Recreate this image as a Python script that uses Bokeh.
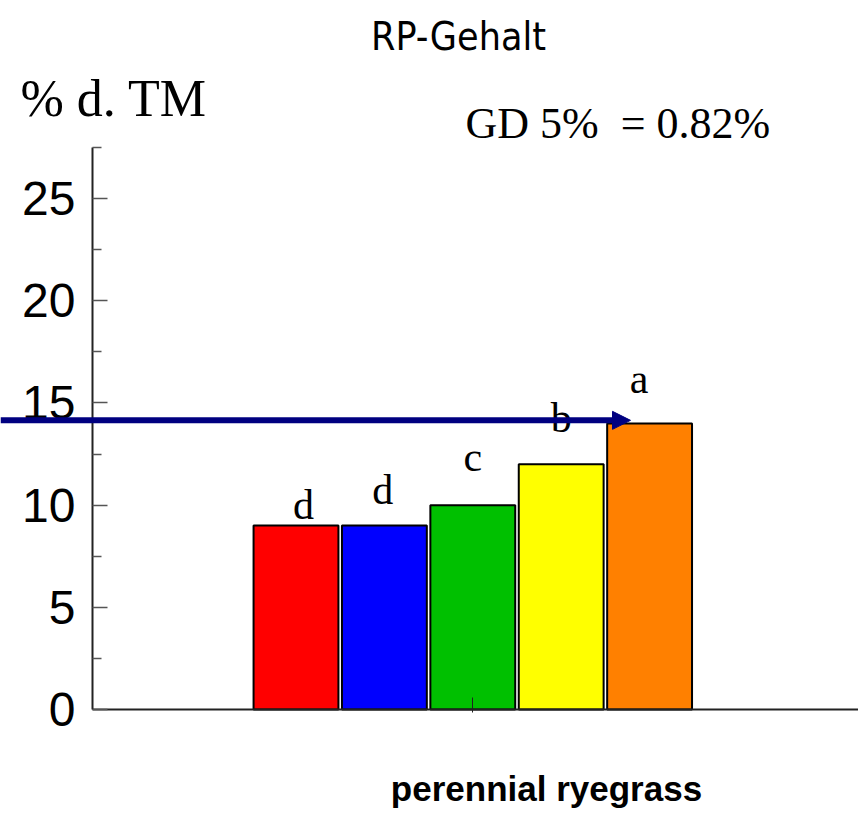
from bokeh.plotting import figure
from bokeh.models import (ColumnDataSource, FixedTicker, Label, Arrow, NormalHead, Range1d)
from bokeh.core.properties import value
from bokeh.embed import file_html
from bokeh.resources import INLINE

# Crude protein content of perennial ryegrass, % of dry matter
treatments = ["T1", "T2", "T3", "T4", "T5"]
protein = [9.0, 9.0, 10.0, 12.0, 14.0]
letters = ["d", "d", "c", "b", "a"]
colors = ["#ff0000", "#0000ff", "#00c000", "#ffff00", "#ff8000"]
y_ticks = [0, 5, 10, 15, 20, 25]
y_minor = [2.5, 7.5, 12.5, 17.5, 22.5, 27.5]
lsd_text = "GD 5%\u00a0 = 0.82%"
reference_level = 14.15

# placement of the significance letters relative to each bar
letter_dx = [0.085, -0.02, 0.0, 0.0, -0.12]
letter_lift = [0.25, 1.03, 1.6, 1.55, 1.46]

# canvas geometry: the plotting frame fills the whole canvas, the axes sit
# at fixed data positions inside it
W, H = 858, 817
AXIS_PX, BASE_PX = 92, 709          # canvas column of the y axis, row of y = 0
X_AT_AXIS = -1.302                  # x value under the y axis
PX_PER_X, PX_PER_Y = 88.4, 20.436
Y_TOP = 27.5
BASELINE_FIX = 0.36                 # lifts alphabetic-baseline text onto its baseline


def dx(px):
    return X_AT_AXIS + (px - AXIS_PX) / PX_PER_X


def dy(py):
    return (BASE_PX - py) / PX_PER_Y


xs = list(range(1, len(protein) + 1))
src = ColumnDataSource(dict(x=xs, top=protein, color=colors))
lab = ColumnDataSource(dict(
    x=[x + d for x, d in zip(xs, letter_dx)],
    y=[v + l for v, l in zip(protein, letter_lift)],
    text=letters,
))

p = figure(width=W, height=H, output_backend="svg", toolbar_location=None,
           x_range=Range1d(dx(0), dx(W)), y_range=Range1d(dy(H), dy(0)),
           min_border=0)
p.outline_line_color = None
p.grid.visible = False
p.background_fill_color = "white"
p.border_fill_color = "white"

p.vbar(x="x", top="top", bottom=0, width=0.96, fill_color="color",
       line_color="black", line_width=2, source=src)

p.text(x="x", y="y", text="text", source=lab, text_align="center",
       text_baseline="alphabetic", text_font=value("Liberation Serif"),
       text_font_size="42px", text_color="black", y_offset=-15)

# y axis
ya = p.yaxis[0]
ya.fixed_location = X_AT_AXIS
ya.bounds = (0, Y_TOP)
ya.ticker = FixedTicker(ticks=y_ticks, minor_ticks=y_minor)
ya.axis_line_color = "#222222"
ya.axis_line_width = 2
ya.major_tick_in = 15
ya.major_tick_out = 0
ya.major_tick_line_color = "#555555"
ya.major_tick_line_width = 1.5
ya.minor_tick_in = 9
ya.minor_tick_out = 0
ya.minor_tick_line_color = "#555555"
ya.minor_tick_line_width = 1.5
ya.major_label_text_font = "Liberation Sans"
ya.major_label_text_font_size = "48px"
ya.major_label_text_color = "black"
ya.major_label_standoff = 17

# x axis along y = 0 with a single tick under the middle bar
xa = p.xaxis[0]
xa.fixed_location = 0
xa.bounds = (X_AT_AXIS, dx(W))
xa.ticker = FixedTicker(ticks=[3], minor_ticks=[])
xa.axis_line_color = "#222222"
xa.axis_line_width = 2
xa.major_tick_in = 12
xa.major_tick_out = 3
xa.major_tick_line_color = "#222222"
xa.major_label_overrides = {3: ""}
xa.major_label_text_font_size = "1px"

# reference arrow at the level of the best treatment, reaching past the axis
p.add_layout(Arrow(end=NormalHead(size=18, fill_color="#000080", line_color="#000080"),
                   x_start=dx(0), y_start=reference_level,
                   x_end=dx(630), y_end=reference_level,
                   line_color="#000080", line_width=6))


def add_text(px, py, text, font, size, align="left", style="normal"):
    p.add_layout(Label(x=dx(px), y=dy(py), text=text, text_align=align,
                       text_baseline="alphabetic", text_color="black",
                       text_font=font, text_font_size=f"{size}px",
                       text_font_style=style, y_offset=BASELINE_FIX * size))


add_text(458, 50, "RP-Gehalt", "DejaVu Sans Condensed, DejaVu Sans", 39, align="center")
add_text(20, 117, "% d. TM", "Liberation Serif", 52)
add_text(465, 139, lsd_text, "Liberation Serif", 44)
add_text(546, 801, "perennial ryegrass", "Liberation Sans", 35, align="center",
         style="bold")

open("out.html", "w").write(file_html(p, INLINE))
